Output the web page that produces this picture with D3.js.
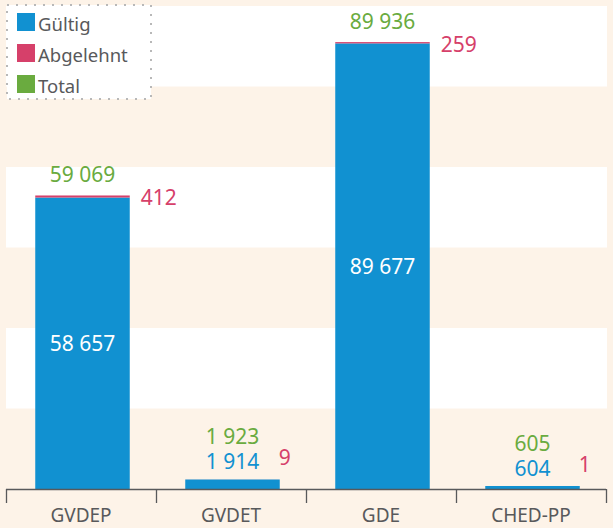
<!DOCTYPE html>
<html>
<head>
<meta charset="utf-8">
<script src="https://cdn.jsdelivr.net/npm/d3@7"></script>
<style>
  html, body { margin: 0; padding: 0; background: #fdf3e8; }
  svg { display: block; font-family: "Noto Sans", sans-serif; }
</style>
</head>
<body>
<script>
// chart values
var categories = ["GVDEP", "GVDET", "GDE", "CHED-PP"];
var gueltig    = [58657, 1914, 89677, 604];
var abgelehnt  = [412, 9, 259, 1];
var total      = [59069, 1923, 89936, 605];
var legendNames = ["Gültig", "Abgelehnt", "Total"];

var colBlue = "#1191d1", colRed = "#d6406a", colGreen = "#6aab3f", colText = "#58595b";
var legendColors = [colBlue, colRed, colGreen];

var width = 613, height = 528;
var plotLeft = 6, plotRight = 606, plotBase = 489, plotTop = 6;

var svg = d3.select("body").append("svg")
    .attr("width", width)
    .attr("height", height);

var x = d3.scaleBand().domain(categories).range([plotLeft, plotRight]).padding(0);
var y = d3.scaleLinear().domain([0, 97200]).range([plotBase, plotTop]);

// alternating background bands
var bandCount = 6;
var bandScale = d3.scaleLinear().domain([0, bandCount]).range([plotBase, plotTop]);
svg.append("g").selectAll("rect")
  .data(d3.range(bandCount).filter(function(i){ return i % 2 === 1; }))
  .enter().append("rect")
    .attr("x", plotLeft)
    .attr("width", plotRight - plotLeft + 1)
    .attr("y", function(i){ return bandScale(i + 1); })
    .attr("height", function(i){ return bandScale(i) - bandScale(i + 1); })
    .attr("fill", "#ffffff");

var barW = x.bandwidth() * 0.63;
function barX(i) { return x(categories[i]) + (x.bandwidth() - barW) / 2 + 1.5; }

var idx = d3.range(categories.length);

// blue bars (Gültig)
svg.append("g").selectAll("rect")
  .data(idx).enter().append("rect")
    .attr("x", barX)
    .attr("width", barW)
    .attr("y", function(i){ return y(gueltig[i]); })
    .attr("height", function(i){ return plotBase - y(gueltig[i]); })
    .attr("fill", colBlue);

// red stacked on top (Abgelehnt)
svg.append("g").selectAll("rect")
  .data(idx).enter().append("rect")
    .attr("x", barX)
    .attr("width", barW)
    .attr("y", function(i){ return y(total[i]); })
    .attr("height", function(i){ return y(gueltig[i]) - y(total[i]); })
    .attr("fill", colRed);

// value labels
var fmt = function(v){ return d3.format(",")(v).replace(/,/g, " "); };
var labels = svg.append("g").attr("font-size", 21);
idx.forEach(function(i){
  var cx = barX(i) + barW / 2;
  var ty = y(total[i]);
  var small = (plotBase - ty) < 40;

  if (small) {
    labels.append("text").attr("x", cx).attr("y", ty - 10)
      .attr("text-anchor", "middle").attr("fill", colBlue).text(fmt(gueltig[i]));
    labels.append("text").attr("x", cx).attr("y", ty - 35)
      .attr("text-anchor", "middle").attr("fill", colGreen).text(fmt(total[i]));
    labels.append("text").attr("x", barX(i) + barW - 1).attr("y", ty - 14)
      .attr("fill", colRed).text(fmt(abgelehnt[i]));
  } else {
    labels.append("text").attr("x", cx).attr("y", (y(gueltig[i]) + plotBase) / 2 + 8)
      .attr("text-anchor", "middle").attr("fill", "#ffffff").text(fmt(gueltig[i]));
    labels.append("text").attr("x", cx).attr("y", ty - 13)
      .attr("text-anchor", "middle").attr("fill", colGreen).text(fmt(total[i]));
    labels.append("text").attr("x", barX(i) + barW + 11).attr("y", ty + 10)
      .attr("fill", colRed).text(fmt(abgelehnt[i]));
  }
});

// category axis
var axis = svg.append("g").attr("stroke", colText).attr("stroke-width", 1.3);
axis.append("line")
  .attr("x1", plotLeft).attr("x2", plotRight)
  .attr("y1", plotBase + 0.5).attr("y2", plotBase + 0.5);
axis.selectAll("line.tick")
  .data(categories.map(function(c){ return x(c); }).concat([plotRight]))
  .enter().append("line").attr("class", "tick")
    .attr("x1", function(d){ return d + 0.5; }).attr("x2", function(d){ return d + 0.5; })
    .attr("y1", plotBase).attr("y2", plotBase + 14);

svg.append("g").selectAll("text")
  .data(categories).enter().append("text")
    .attr("x", function(d){ return x(d) + x.bandwidth() / 2; })
    .attr("y", 522)
    .attr("text-anchor", "middle")
    .attr("font-size", 19)
    .attr("fill", colText)
    .text(function(d){ return d; });

// legend
var lg = svg.append("g").attr("id", "legend");
lg.append("rect")
  .attr("x", 7).attr("y", 5).attr("width", 144).attr("height", 94)
  .attr("fill", "#ffffff")
  .attr("stroke", "#b8b8b8").attr("stroke-width", 2)
  .attr("stroke-dasharray", "2,7");
var items = lg.selectAll("g.item").data(legendNames).enter().append("g")
  .attr("class", "item")
  .attr("transform", function(d, i){ return "translate(17," + (13 + i * 31) + ")"; });
items.append("rect").attr("width", 18).attr("height", 18)
  .attr("fill", function(d, i){ return legendColors[i]; });
items.append("text").attr("x", 21).attr("y", 18)
  .attr("font-size", 18.5).attr("fill", colText)
  .text(function(d){ return d; });
</script>
</body>
</html>
